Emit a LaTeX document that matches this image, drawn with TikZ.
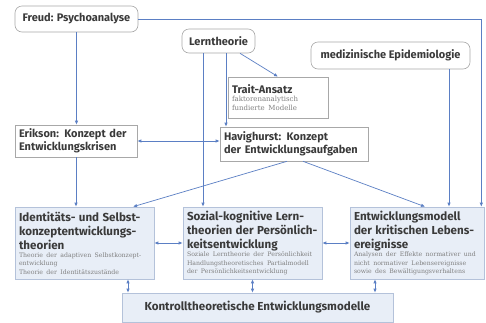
\documentclass[tikz,border=0pt]{standalone}
\usepackage{fontspec}
\setmainfont{DejaVu Serif}
\setsansfont{Fira Sans}
\usepackage{xcolor}
\usetikzlibrary{arrows.meta,positioning}

\definecolor{linkblue}{HTML}{5B7FC4}
\definecolor{boxgray}{HTML}{A8A8A8}
\definecolor{headgray}{HTML}{3A3A3A}
\definecolor{minorgray}{HTML}{808080}
\definecolor{theoryfill}{HTML}{E8EEF7}
\definecolor{theoryline}{HTML}{B4C2DA}

\newcommand{\headtext}{\sffamily\bfseries\fontsize{11.6}{14}\selectfont}
\newcommand{\minortext}{\rmfamily\mdseries\fontsize{6.2}{8.4}\selectfont\color{minorgray}}

\begin{document}
\begin{tikzpicture}[x=1pt,y=-1pt]
  \tikzset{source/.style = {shape=rectangle,draw=boxgray,rounded corners=7pt,line width=0.6pt,fill=white,text=headgray,font=\sffamily\bfseries\fontsize{11}{12}\selectfont,inner sep=2pt}}
  \tikzset{concept/.style = {shape=rectangle,draw=boxgray,line width=0.6pt,fill=white,text=headgray,font=\sffamily\bfseries\fontsize{11}{13.5}\selectfont,align=left,inner xsep=4pt,inner ysep=2pt}}
  \tikzset{theory/.style = {shape=rectangle,draw=theoryline,line width=0.6pt,fill=theoryfill,text=headgray,align=left,inner xsep=4pt,inner ysep=1.5pt,minimum height=72}}
  \tikzset{tipA/.tip={Latex[length=4pt,width=3.4pt]}}
  \tikzset{edge/.style = {-tipA,draw=linkblue,line width=0.7pt}}
  \tikzset{both/.style = {tipA-tipA,draw=linkblue,line width=0.7pt}}

  \useasboundingbox[fill=white] (0,0) rectangle (486,322);

  \node[source,minimum width=123,minimum height=26] (FP) at (76.5,19) {Freud: Psychoanalyse};
  \node[source,minimum width=73,minimum height=24] (LT) at (218.5,41) {Lerntheorie};
  \node[source,minimum width=159,minimum height=27] (ME) at (390.5,55.5) {medizinische Epidemiologie};

  \node[concept,minimum width=100,minimum height=41,text width=92] (TA) at (278,97.5)
    {Trait-Ansatz\par{\minortext\fontsize{7}{8.6}\selectfont faktorenanalytisch\\ fundierte Modelle\par}};
  \node[concept,minimum width=122,minimum height=32,text width=114] (ER) at (76,141)
    {Erikson: Konzept der\\ Entwicklungskrisen};
  \node[concept,minimum width=148,minimum height=34,text width=140] (HV) at (294,144)
    {Havighurst: Konzept\\ der Entwicklungsaufgaben};

  \node[theory,minimum width=139,text width=131] (ID) at (84.5,243)
    {{\headtext Identitäts- und Selbst-\\ konzeptentwicklungs-\\ theorien\par}%
     {\minortext Theorie der adaptiven Selbstkonzept-\\ entwicklung\\ Theorie der Identitätszustände\par}};
  \node[theory,minimum width=139,text width=131] (SK) at (252.5,243)
    {{\headtext Sozial-kognitive Lern-\\ theorien der Persönlich-\\ keitsentwicklung\par}%
     {\minortext Soziale Lerntheorie der Persönlichkeit\\ Handlungstheoretisches Partialmodell\\ der Persönlichkeitsentwicklung\par}};
  \node[theory,minimum width=134,text width=126] (EM) at (417,243)
    {{\headtext Entwicklungsmodell\\ der kritischen Lebens-\\ ereignisse\par}%
     {\minortext Analysen der Effekte normativer und\\ nicht normativer Lebensereignisse\\ sowie des Bewältigungsverhaltens\par}};
  \node[theory,minimum width=271,minimum height=29,align=center] (KT) at (257.5,307.5)
    {\headtext Kontrolltheoretische Entwicklungsmodelle};

  % sources
  \draw[edge] (FP.south) -- (FP.south |- ER.north);
  \draw[edge] (FP.east) -| ([xshift=-3pt]EM.north east);
  \draw[edge] ([xshift=58.5pt]ME.south) -- ([xshift=58.5pt]ME.south |- EM.north);
  \draw[edge] ([xshift=-15.5pt]LT.south) -- ([xshift=-15.5pt]LT.south |- SK.north);
  \draw[edge] ([xshift=7.5pt]LT.south) -- ([xshift=7.5pt]LT.south |- HV.north);
  \draw[edge] ([xshift=21.5pt]LT.south) -- (TA.north);

  % concepts
  \draw[both] (ER.east) -- (ER.east -| HV.west);
  \draw[edge] (ER.south) -- (ER.south |- ID.north);
  \draw[edge] ([xshift=-7pt]HV.south) -- ([xshift=48.5pt]ID.north);
  \draw[edge] ([xshift=9pt]HV.south) -- ([xshift=8pt]EM.north);

  % theories
  \foreach \from/\to in {ID/SK, SK/EM}
    \draw[both] (\from.east) -- (\to.west);
  \draw[both] ([xshift=43.5pt]ID.south) -- ([xshift=43.5pt]ID.south |- KT.north);
  \draw[both] (SK.south) -- (SK.south |- KT.north);
  \draw[both] ([xshift=-42pt]EM.south) -- ([xshift=-42pt]EM.south |- KT.north);
\end{tikzpicture}
\end{document}
